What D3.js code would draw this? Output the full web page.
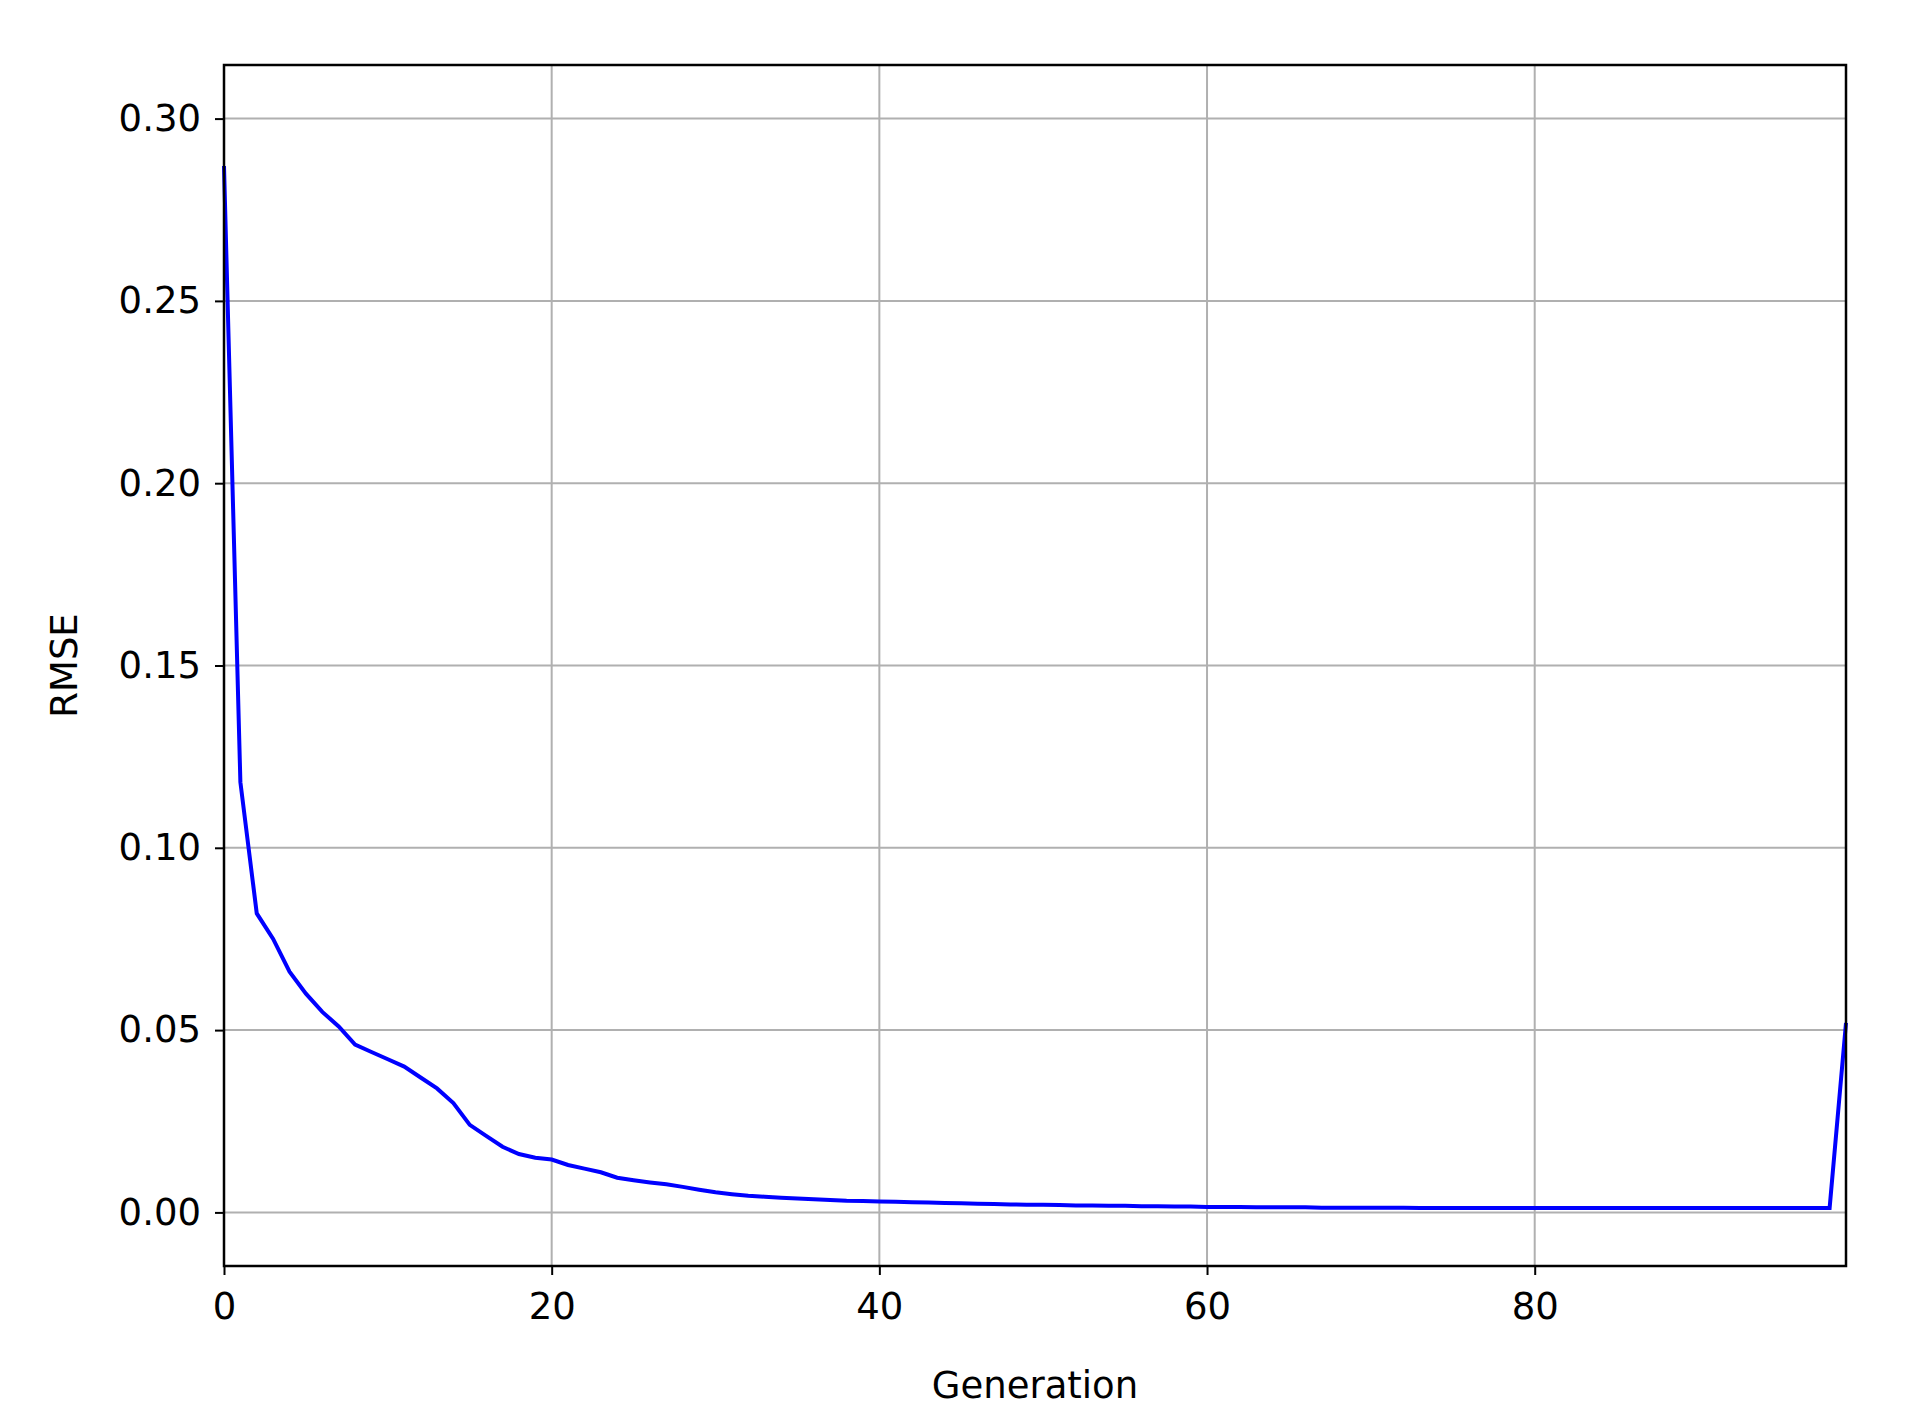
<!DOCTYPE html>
<html>
<head>
<meta charset="utf-8">
<script src="https://cdn.jsdelivr.net/npm/d3@7"></script>
<style>
  body { margin: 0; background: #fff; }
  text { font-family: "DejaVu Sans", sans-serif; fill: #000; }
</style>
</head>
<body>
<svg width="1909" height="1417"></svg>
<script>
// RMSE per generation
const rmse = [
  0.287, 0.118, 0.082, 0.075, 0.066, 0.060, 0.055, 0.051, 0.046, 0.044,
  0.042, 0.040, 0.037, 0.034, 0.030, 0.024, 0.021, 0.018, 0.016, 0.015,
  0.0145, 0.013, 0.012, 0.011, 0.0095, 0.0088, 0.0082, 0.0077, 0.0070, 0.0062,
  0.0055, 0.0050, 0.0046, 0.0043, 0.0040, 0.0038, 0.0036, 0.0034, 0.0032, 0.0031,
  0.0030, 0.0029, 0.0028, 0.0027, 0.0026, 0.0025, 0.0024, 0.0023, 0.0022, 0.0021,
  0.0021, 0.0020, 0.0019, 0.0019, 0.0018, 0.0018, 0.0017, 0.0017, 0.0016, 0.0016,
  0.0015, 0.0015, 0.0015, 0.0014, 0.0014, 0.0014, 0.0014, 0.0013, 0.0013, 0.0013,
  0.0013, 0.0013, 0.0013, 0.0012, 0.0012, 0.0012, 0.0012, 0.0012, 0.0012, 0.0012,
  0.0012, 0.0012, 0.0012, 0.0012, 0.0012, 0.0012, 0.0012, 0.0012, 0.0012, 0.0012,
  0.0012, 0.0012, 0.0012, 0.0012, 0.0012, 0.0012, 0.0012, 0.0012, 0.0012, 0.052
];
const xTicks = [0, 20, 40, 60, 80];
const yTicks = [0.00, 0.05, 0.10, 0.15, 0.20, 0.25, 0.30];

const svg = d3.select("svg"),
  margin = { top: 65, right: 63, bottom: 151, left: 224 },
  width = 1909 - margin.left - margin.right,
  height = 1417 - margin.top - margin.bottom,
  g = svg.append("g").attr("transform", `translate(${margin.left},${margin.top})`);

const x = d3.scaleLinear().domain([0, rmse.length - 1]).range([0, width]);
const y = d3.scaleLinear().domain([-0.0147, 0.3147]).range([height, 0]);

// grid
g.append("g").selectAll("line").data(xTicks).join("line")
  .attr("x1", d => x(d)).attr("x2", d => x(d)).attr("y1", 0).attr("y2", height)
  .attr("stroke", "#b0b0b0").attr("stroke-width", 2);
g.append("g").selectAll("line").data(yTicks).join("line")
  .attr("y1", d => y(d)).attr("y2", d => y(d)).attr("x1", 0).attr("x2", width)
  .attr("stroke", "#b0b0b0").attr("stroke-width", 2);

// line
g.append("path").datum(rmse)
  .attr("fill", "none").attr("stroke", "#0000ff").attr("stroke-width", 4)
  .attr("d", d3.line().x((d, i) => x(i)).y(d => y(d)));

// axes
const xAxis = g.append("g").attr("transform", `translate(0,${height})`)
  .call(d3.axisBottom(x).tickValues(xTicks).tickSize(9).tickPadding(18).tickFormat(d3.format("d")));
const yAxis = g.append("g")
  .call(d3.axisLeft(y).tickValues(yTicks).tickSize(9).tickPadding(14).tickFormat(d3.format(".2f")));
[xAxis, yAxis].forEach(a => {
  a.select(".domain").remove();
  a.selectAll("line").attr("stroke", "#000").attr("stroke-width", 2);
  a.selectAll("text").style("font-size", "37px").style("font-family", "DejaVu Sans");
});

// frame
g.append("rect").attr("width", width).attr("height", height)
  .attr("fill", "none").attr("stroke", "#000").attr("stroke-width", 2.5);

svg.append("text").attr("x", margin.left + width / 2).attr("y", 1398)
  .attr("text-anchor", "middle").style("font-size", "37px").text("Generation");
svg.append("text").attr("transform", `translate(77,${margin.top + height / 2}) rotate(-90)`)
  .attr("text-anchor", "middle").style("font-size", "37px").text("RMSE");
</script>
</body>
</html>
